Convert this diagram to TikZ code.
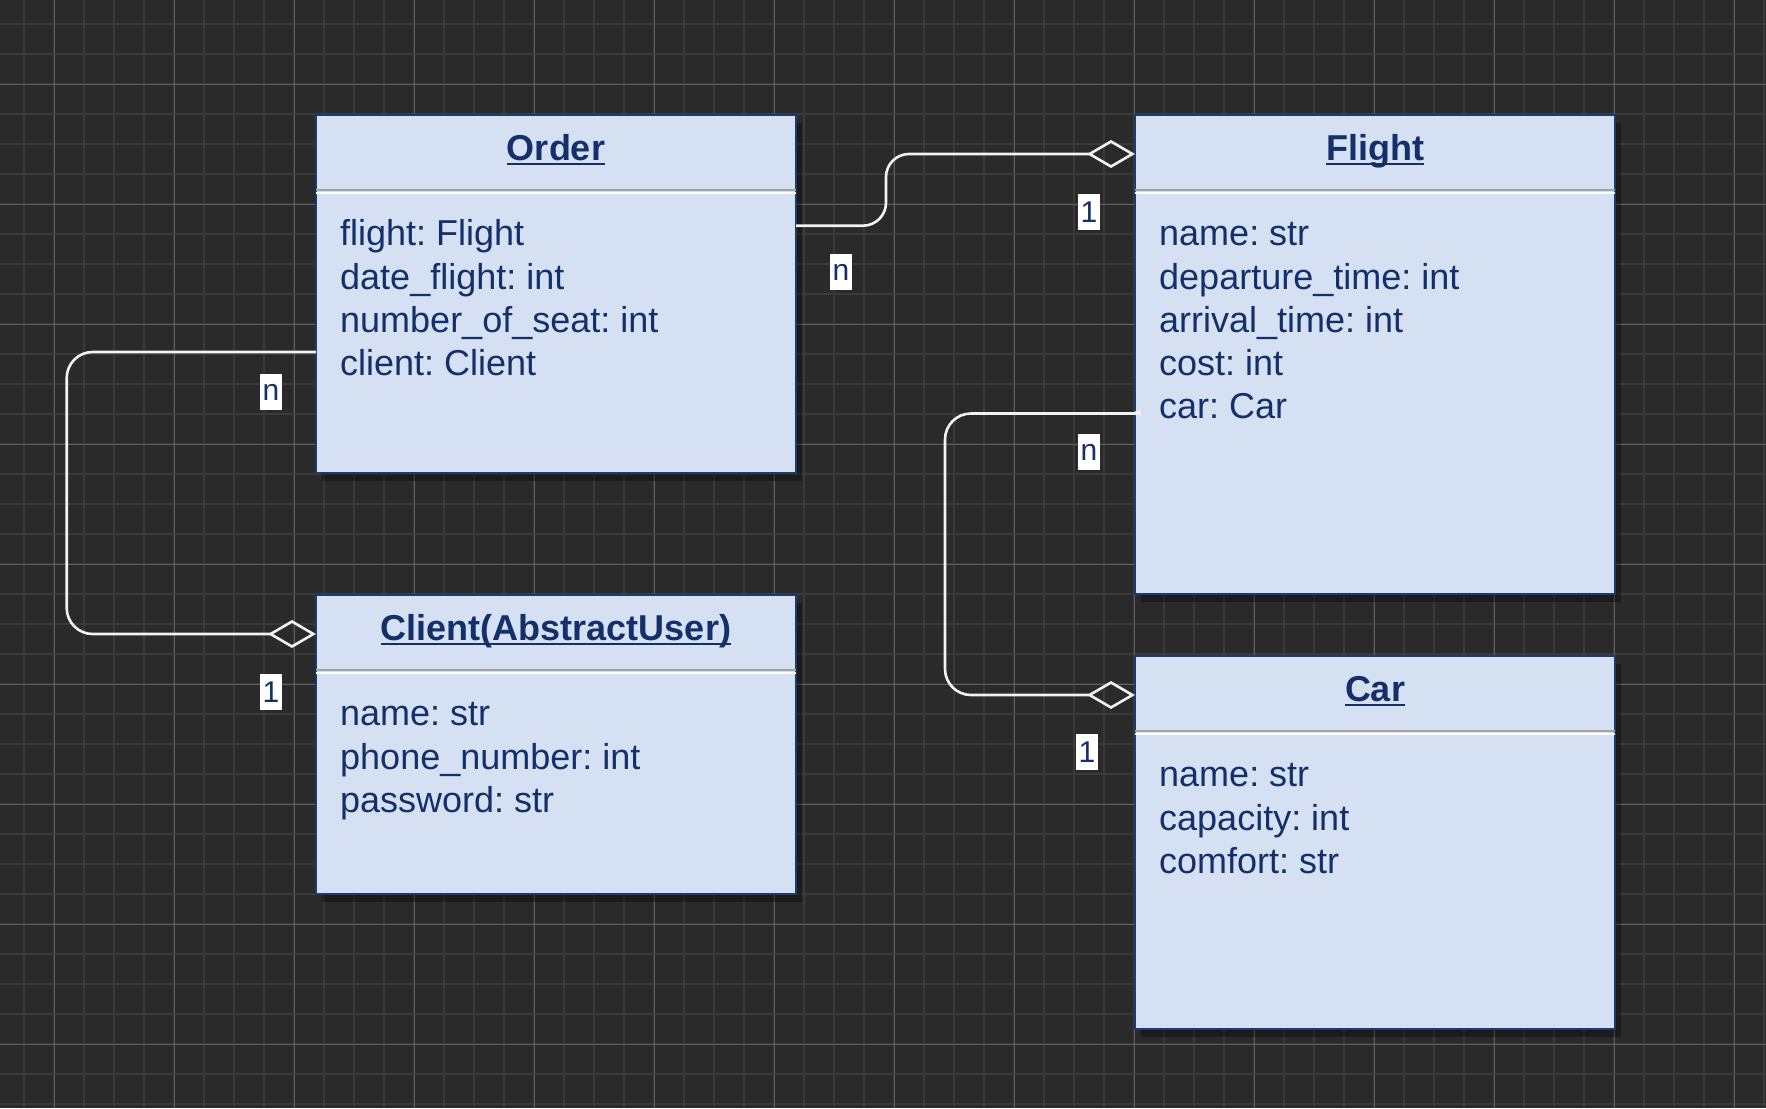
\documentclass[tikz,border=0pt]{standalone}
\usepackage{fontspec}
\setmainfont{Liberation Sans}
\usetikzlibrary{arrows.meta,shadows}
\definecolor{bg}{HTML}{2A2A2A}
\definecolor{gridminor}{HTML}{3A3A3A}
\definecolor{gridmajor}{HTML}{5E5E5E}
\definecolor{boxfill}{HTML}{D5E1F3}
\definecolor{boxline}{HTML}{1B3A6E}
\definecolor{ink}{HTML}{13306A}
\definecolor{sepgray}{HTML}{A3A3A3}
\definecolor{wire}{HTML}{F2F2F2}
\frenchspacing
\begin{document}
\begin{tikzpicture}[x=1pt,y=-1pt,
  classbox/.style={draw=boxline, line width=2.2pt, fill=boxfill, minimum width=480pt,
    anchor=north west, inner sep=0pt, outer sep=0pt,
    drop shadow={shadow xshift=6pt, shadow yshift=-8pt, fill=black, opacity=0.35}},
  classtitle/.style={anchor=base, inner sep=0pt, text=ink,
    font=\fontsize{36}{42}\selectfont\bfseries},
  attr/.style={anchor=base west, inner sep=0pt, text=ink,
    font=\fontsize{36}{42}\selectfont},
  uline/.style={draw=ink, line width=2.4pt},
  sepline/.style={draw=sepgray, line width=2.6pt},
  sephi/.style={draw=white!90!boxfill, line width=2pt},
  conn/.style={draw=wire, line width=2.6pt,
    -{Diamond[open,length=48pt,width=28pt]}},
  mult/.style={fill=white, text=ink, inner sep=0pt, minimum width=22pt,
    minimum height=36pt, font=\fontsize{30}{32}\selectfont}
]
\useasboundingbox (0,0) rectangle (1766,1108);
\fill[bg] (0,0) rectangle (1766,1108);
% grid
\foreach \x in {24,54,...,1764} \draw[gridminor, line width=1.4pt] (\x,0) -- (\x,1108);
\foreach \y in {24,54,...,1104} \draw[gridminor, line width=1.4pt] (0,\y) -- (1766,\y);
\foreach \x in {54,174,...,1734} \draw[gridmajor, line width=1pt] (\x,0) -- (\x,1108);
\foreach \y in {84,204,...,1044} \draw[gridmajor, line width=1pt] (0,\y) -- (1766,\y);

% boxes
\node[classbox, minimum height=358pt] (order) at (316,115) {};
\node[classbox, minimum height=479pt] (flight) at (1135,115) {};
\node[classbox, minimum height=299pt] (client) at (316,595) {};
\node[classbox, minimum height=373pt] (car) at (1135,656) {};

% separators
\foreach \b in {order,flight,client,car}{
  \draw[sepline] ([yshift=-75pt]\b.north west) -- ([yshift=-75pt]\b.north east);
  \draw[sephi] ([yshift=-77.8pt]\b.north west) -- ([yshift=-77.8pt]\b.north east);
}

% titles
\node[classtitle] (order-t) at ([yshift=-45pt]order.north) {Order};
\node[classtitle] (flight-t) at ([yshift=-45pt]flight.north) {Flight};
\node[classtitle] (client-t) at ([yshift=-45pt]client.north) {Client(AbstractUser)};
\node[classtitle] (car-t) at ([yshift=-45pt]car.north) {Car};
\foreach \t in {order-t,flight-t,client-t,car-t}
  \draw[uline] ([yshift=-3.8pt]\t.base west) -- ([yshift=-3.8pt]\t.base east);

% attributes
\node[attr] (order-a1) at ([xshift=24pt,yshift=-130.7pt]order.north west) {flight: Flight};
\node[attr] (order-a2) at ([xshift=24pt,yshift=-174pt]order.north west) {date\_flight: int};
\node[attr] (order-a3) at ([xshift=24pt,yshift=-217.3pt]order.north west) {number\_of\_seat: int};
\node[attr] (order-a4) at ([xshift=24pt,yshift=-260.6pt]order.north west) {client: Client};

\node[attr] (flight-a1) at ([xshift=24pt,yshift=-130.7pt]flight.north west) {name: str};
\node[attr] (flight-a2) at ([xshift=24pt,yshift=-174pt]flight.north west) {departure\_time: int};
\node[attr] (flight-a3) at ([xshift=24pt,yshift=-217.3pt]flight.north west) {arrival\_time: int};
\node[attr] (flight-a4) at ([xshift=24pt,yshift=-260.6pt]flight.north west) {cost: int};
\node[attr] (flight-a5) at ([xshift=24pt,yshift=-303.9pt]flight.north west) {car: Car};

\node[attr] (client-a1) at ([xshift=24pt,yshift=-130.7pt]client.north west) {name: str};
\node[attr] (client-a2) at ([xshift=24pt,yshift=-174pt]client.north west) {phone\_number: int};
\node[attr] (client-a3) at ([xshift=24pt,yshift=-217.3pt]client.north west) {password: str};

\node[attr] (car-a1) at ([xshift=24pt,yshift=-130.7pt]car.north west) {name: str};
\node[attr] (car-a2) at ([xshift=24pt,yshift=-174pt]car.north west) {capacity: int};
\node[attr] (car-a3) at ([xshift=24pt,yshift=-217.3pt]car.north west) {comfort: str};

% connectors
\draw[conn, rounded corners=23pt] ([yshift=-110.7pt]order.north east) -- ++(90,0)
  |- ([yshift=-39pt]flight.north west);
\draw[conn, rounded corners=26pt] ([yshift=-237pt]order.north west) -- ++(-249.3,0)
  |- ([yshift=-39pt]client.north west);
\draw[conn, rounded corners=26pt] ([xshift=5pt,yshift=-296pt]flight.north west)
  .. controls ([xshift=-2pt,yshift=-298.5pt]flight.north west) .. ([xshift=-20pt,yshift=-298.5pt]flight.north west)
  -- ++(-170,0) |- ([yshift=-39pt]car.north west);

% multiplicities
\node[mult] (m-of-n) at (841,272) {n};
\node[mult] (m-of-1) at (1089,212) {1};
\node[mult] (m-oc-n) at (271,392) {n};
\node[mult] (m-oc-1) at (271,692) {1};
\node[mult] (m-fc-n) at (1089,452) {n};
\node[mult] (m-fc-1) at (1087,752) {1};
\end{tikzpicture}
\end{document}
